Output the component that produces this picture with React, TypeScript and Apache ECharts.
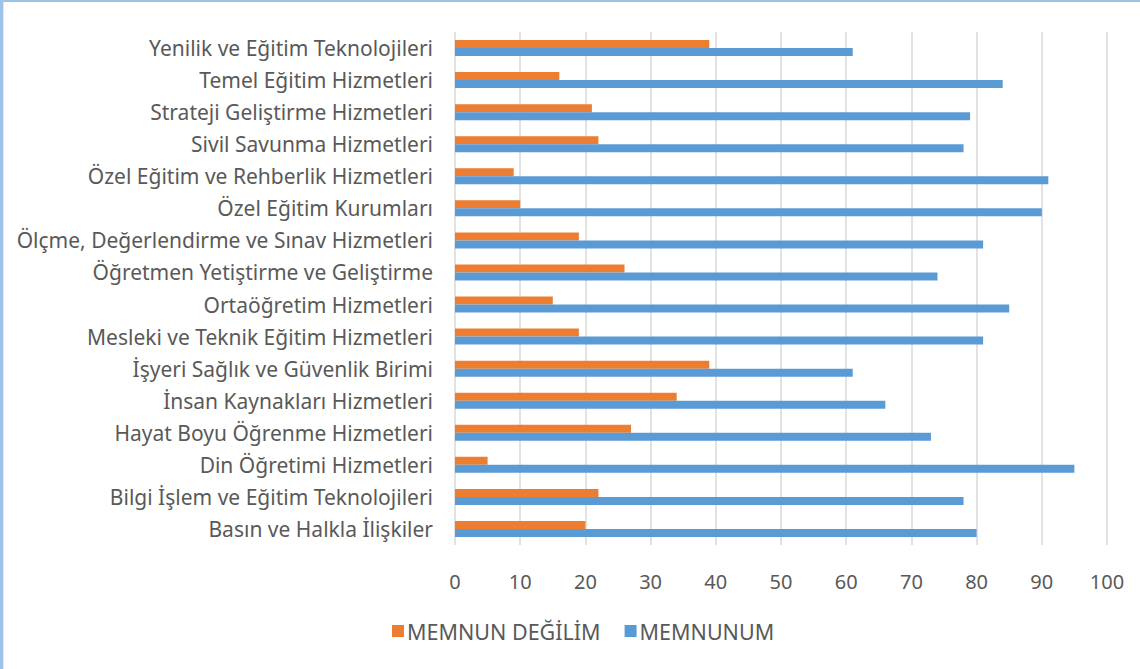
import React, { useEffect, useRef } from "react";
import * as echarts from "echarts";

const categories = [
  "Basın ve Halkla İlişkiler",
  "Bilgi İşlem ve Eğitim Teknolojileri",
  "Din Öğretimi Hizmetleri",
  "Hayat Boyu Öğrenme Hizmetleri",
  "İnsan Kaynakları Hizmetleri",
  "İşyeri Sağlık ve Güvenlik Birimi",
  "Mesleki ve Teknik Eğitim Hizmetleri",
  "Ortaöğretim Hizmetleri",
  "Öğretmen Yetiştirme ve Geliştirme",
  "Ölçme, Değerlendirme ve Sınav Hizmetleri",
  "Özel Eğitim Kurumları",
  "Özel Eğitim ve Rehberlik Hizmetleri",
  "Sivil Savunma Hizmetleri",
  "Strateji Geliştirme Hizmetleri",
  "Temel Eğitim Hizmetleri",
  "Yenilik ve Eğitim Teknolojileri",
];

const memnunDegilim = [20, 22, 5, 27, 34, 39, 19, 15, 26, 19, 10, 9, 22, 21, 16, 39];
const memnunum = [80, 78, 95, 73, 66, 61, 81, 85, 74, 81, 90, 91, 78, 79, 84, 61];

const seriesNames = ["MEMNUN DEĞİLİM", "MEMNUNUM"];

const FONT = "'Noto Sans', 'Open Sans', sans-serif";

export default function App() {
  const ref = useRef<HTMLDivElement>(null);
  useEffect(() => {
    document.body.style.margin = "0";
    if (!ref.current) return;
    const chart = echarts.init(ref.current, null, { renderer: "svg" });
    chart.setOption({
      animation: false,
      backgroundColor: "#ffffff",
      grid: { left: 455, right: 33, top: 32, bottom: 124, containLabel: false },
      legend: {
        data: seriesNames,
        bottom: 22,
        left: 387,
        itemWidth: 12,
        itemHeight: 12,
        itemGap: 24,
        icon: "rect",
        textStyle: { color: "#595959", fontSize: 21.5, fontFamily: FONT, padding: [0, 0, 0, -2] },
      },
      xAxis: {
        type: "value",
        min: 0,
        max: 100,
        interval: 10,
        axisLine: { show: false },
        axisTick: { show: false },
        axisLabel: { color: "#595959", fontSize: 20, fontFamily: FONT, margin: 26 },
        splitLine: { show: true, lineStyle: { color: "#D9D9D9", width: 1.5 } },
      },
      yAxis: {
        type: "category",
        data: categories,
        axisLine: { show: false },
        axisTick: { show: false },
        axisLabel: { color: "#595959", fontSize: 21, fontFamily: FONT, margin: 22 },
        splitLine: { show: false },
      },
      series: [
        {
          name: seriesNames[0],
          type: "bar",
          data: memnunDegilim,
          barWidth: 8,
          barGap: "0%",
          itemStyle: { color: "#ED7D31" },
        },
        {
          name: seriesNames[1],
          type: "bar",
          data: memnunum,
          barWidth: 8,
          barGap: "0%",
          itemStyle: { color: "#5B9BD5" },
        },
      ],
      graphic: [
        { type: "rect", left: 0, top: 0, shape: { width: 3, height: 669 }, style: { fill: "#9DC3E6" } },
        { type: "rect", left: 0, top: 0, shape: { width: 1140, height: 2 }, style: { fill: "#9DC3E6" } },
        { type: "rect", left: 3, top: 2, shape: { width: 1, height: 667 }, style: { fill: "#E6E6E6" } },
      ],
    });
    return () => chart.dispose();
  }, []);
  return <div ref={ref} style={{ width: 1140, height: 669 }} />;
}
